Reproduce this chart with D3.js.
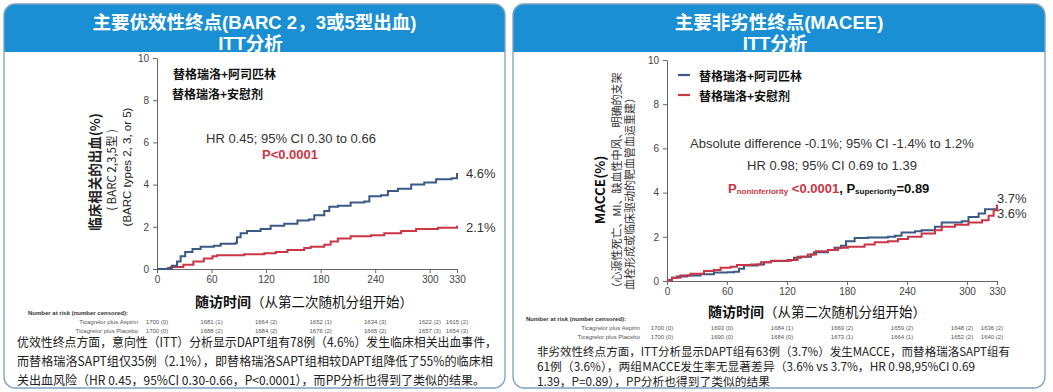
<!DOCTYPE html>
<html><head><meta charset="utf-8">
<script src="https://cdn.jsdelivr.net/npm/d3@7"></script>
<style>
body{margin:0;background:#fff}
svg{display:block}
text{font-family:"Noto Sans CJK SC","Noto Sans",sans-serif}
.lat{font-family:"Liberation Sans",Arial,sans-serif}
.ttl{font-family:"Liberation Sans","Noto Sans CJK SC",sans-serif}
</style></head>
<body><svg id="c" width="1053" height="392"></svg>
<script>
// ---------- data ----------
const xTicks = [0, 60, 120, 180, 240, 300, 330];
const yTicks = [0, 2, 4, 6, 8, 10];
const seriesNames = ["替格瑞洛+阿司匹林", "替格瑞洛+安慰剂"];
const riskLabels = ["Ticagrelor plus Aspirin", "Ticagrelor plus Placebo"];

// Left: BARC 2,3,5 bleeding (%)
const barcAspDays = [0, 15, 16.5, 22, 26, 31, 39, 48, 62.5, 70, 86.5, 88, 92, 99, 114, 125, 140, 154.5, 167, 173, 184, 189.5, 199, 213, 228, 233.6, 246.5, 254, 265, 279.6, 294, 307, 324, 330];
const barcAspVals = [0, 0.05, 0.15, 0.35, 0.6, 0.8, 0.95, 1.05, 1.1, 1.2, 1.25, 1.5, 1.7, 1.8, 1.9, 2.05, 2.15, 2.3, 2.35, 2.55, 2.75, 2.95, 3.0, 3.15, 3.2, 3.45, 3.5, 3.7, 3.8, 4.0, 4.1, 4.25, 4.3, 4.55];
const barcPlaDays = [0, 12, 15, 29, 40, 51.5, 61, 66, 96, 118, 130.6, 143.5, 162, 169, 184, 191, 199, 213, 235.5, 250, 268.6, 285, 309, 330];
const barcPlaVals = [0, 0.05, 0.1, 0.2, 0.35, 0.5, 0.6, 0.65, 0.7, 0.75, 0.8, 0.9, 1.0, 1.05, 1.15, 1.3, 1.45, 1.55, 1.6, 1.7, 1.8, 1.9, 1.95, 2.05];
const barcRiskAsp = ["1700 (0)", "1681 (1)", "1664 (2)", "1652 (1)", "1634 (3)", "1622 (2)", "1615 (2)"];
const barcRiskPla = ["1700 (0)", "1688 (2)", "1684 (2)", "1676 (2)", "1665 (2)", "1657 (3)", "1654 (3)"];
const barcEndLabels = ["4.6%", "2.1%"];

// Right: MACCE (%)
const macAspDays = [0, 5, 10, 20, 33.5, 47, 60, 67, 72, 77, 90.5, 97, 104, 120.6, 127, 134, 144, 147, 161, 167.5, 174, 179, 187.6, 201, 221, 228, 234.5, 248, 254.6, 268, 274.7, 294.8, 301.5, 311.6, 318, 330];
const macAspVals = [0.05, 0.15, 0.2, 0.25, 0.3, 0.38, 0.4, 0.42, 0.55, 0.7, 0.75, 0.85, 0.9, 0.95, 1.05, 1.1, 1.2, 1.3, 1.4, 1.5, 1.6, 1.8, 1.95, 1.97, 2.0, 2.05, 2.2, 2.25, 2.3, 2.45, 2.65, 2.7, 2.9, 3.05, 3.25, 3.45];
const macPlaDays = [0, 5, 13.4, 23.5, 37, 47, 53.6, 63.6, 70, 84, 94, 104, 124, 130.6, 140.7, 149, 161, 171, 181, 197.6, 207.7, 221, 231, 241, 254.6, 268, 274.7, 288, 301.5, 315, 321.6, 326.6, 330];
const macPlaVals = [0.05, 0.15, 0.25, 0.33, 0.45, 0.5, 0.6, 0.65, 0.72, 0.75, 0.85, 0.92, 0.95, 1.1, 1.2, 1.35, 1.4, 1.5, 1.55, 1.65, 1.75, 1.8, 1.9, 2.0, 2.15, 2.3, 2.45, 2.55, 2.65, 2.75, 2.95, 3.2, 3.45];
const macRiskAsp = ["1700 (0)", "1693 (0)", "1684 (1)", "1669 (2)", "1659 (2)", "1648 (2)", "1636 (2)"];
const macRiskPla = ["1700 (0)", "1690 (0)", "1684 (0)", "1673 (1)", "1664 (1)", "1652 (2)", "1640 (2)"];
const macEndLabels = ["3.7%", "3.6%"];

const leftTitle = ["主要优效性终点(BARC 2，3或5型出血)", "ITT分析"];
const rightTitle = ["主要非劣性终点(MACEE)", "ITT分析"];
const xTitleBold = "随访时间";
const xTitleRest = "（从第二次随机分组开始）";
const leftPara = [
  "优效性终点方面，意向性（ITT）分析显示DAPT组有78例（4.6%）发生临床相关出血事件，",
  "而替格瑞洛SAPT组仅35例（2.1%），即替格瑞洛SAPT组相较DAPT组降低了55%的临床相",
  "关出血风险（HR 0.45，95%CI 0.30-0.66，P<0.0001），而PP分析也得到了类似的结果。"
];
const rightPara = [
  "非劣效性终点方面，ITT分析显示DAPT组有63例（3.7%）发生MACCE，而替格瑞洛SAPT组有",
  "61例（3.6%），两组MACCE发生率无显著差异（3.6% vs 3.7%，HR 0.98,95%CI 0.69",
  "1.39，P=0.89），PP分析也得到了类似的结果"
];

// ---------- drawing ----------
const BLUE = "#3a5a86", RED = "#cc3545", HEAD = "#1a8fd3";
const svg = d3.select("#c");
const defs = svg.append("defs");

function panel(id, x, y, w, h, title) {
  defs.append("clipPath").attr("id", id).append("rect")
    .attr("x", x).attr("y", y).attr("width", w).attr("height", h).attr("rx", 11);
  const g = svg.append("g");
  g.append("rect").attr("x", x).attr("y", y).attr("width", w).attr("height", h)
    .attr("rx", 11).attr("fill", "#fff");
  g.append("rect").attr("clip-path", `url(#${id})`).attr("x", x).attr("y", y)
    .attr("width", w).attr("height", 48).attr("fill", HEAD);
  g.append("rect").attr("x", x).attr("y", y).attr("width", w).attr("height", h)
    .attr("rx", 11).attr("fill", "none").attr("stroke", "#7fa3bd").attr("stroke-width", 1.3);
  const cx = x + w / 2;
  [[title[0], cx, y + 18.5], [title[1], cx - 4, y + 39.5]].forEach(([t, tx, ty]) => {
    g.append("text").attr("class", "ttl").attr("x", tx).attr("y", ty).attr("text-anchor", "middle")
      .attr("dominant-baseline", "central")
      .attr("font-size", 18.5).attr("font-weight", "bold").attr("fill", "#fff").text(t);
  });
}
panel("clipL", 4, 4, 501, 384, leftTitle);
panel("clipR", 513, 4, 532, 384, rightTitle);

function chart(cfg) {
  const x = d3.scaleLinear().domain([0, 330]).range(cfg.xr);
  const y = d3.scaleLinear().domain([0, 10]).range(cfg.yr);
  const g = svg.append("g");
  const ax = g.append("g").attr("transform", `translate(0,${cfg.yr[0]})`)
    .call(d3.axisBottom(x).tickValues(xTicks).tickSize(4).tickSizeOuter(0).tickPadding(3));
  const ay = g.append("g").attr("transform", `translate(${cfg.xr[0]},0)`)
    .call(d3.axisLeft(y).tickValues(yTicks).tickSize(4).tickSizeOuter(0).tickPadding(4));
  [ax, ay].forEach(a => {
    a.selectAll("path,line").attr("stroke", "#666");
    a.selectAll("text").attr("class", "lat").attr("font-size", 10).attr("fill", "#444");
  });
  const line = d3.line().x(d => x(d[0])).y(d => y(d[1])).curve(d3.curveStepAfter);
  const series = [
    { days: cfg.plaDays, vals: cfg.plaVals, color: RED },
    { days: cfg.aspDays, vals: cfg.aspVals, color: BLUE }
  ];
  if (cfg.blueOnTop === false) series.reverse();
  series.forEach(s => {
    g.append("path").datum(s.days.map((d, i) => [d, s.vals[i]]))
      .attr("d", line).attr("fill", "none").attr("stroke", s.color).attr("stroke-width", 2);
  });
  // end labels
  cfg.endLabels.forEach((t, i) => {
    g.append("text").attr("class", "lat").attr("x", cfg.endX).attr("y", cfg.endY[i])
      .attr("dominant-baseline", "central").attr("font-size", 13).attr("fill", "#333").text(t);
  });
  // legend
  seriesNames.forEach((n, i) => {
    if (cfg.legendLines) {
      g.append("line").attr("x1", cfg.legX - 21).attr("x2", cfg.legX - 9)
        .attr("y1", cfg.legY[i]).attr("y2", cfg.legY[i])
        .attr("stroke", i === 0 ? BLUE : RED).attr("stroke-width", 2.2);
    }
    g.append("text").attr("x", cfg.legX + (cfg.legDx ? cfg.legDx[i] : 0)).attr("y", cfg.legY[i])
      .attr("dominant-baseline", "central").attr("font-size", 12).attr("font-weight", "bold")
      .attr("fill", "#111").text(n);
  });
  // x title
  const xt = g.append("text").attr("x", cfg.xTitleX).attr("y", cfg.xTitleY)
    .attr("text-anchor", "middle").attr("dominant-baseline", "central").attr("font-size", 14).attr("fill", "#111");
  xt.append("tspan").attr("font-weight", "bold").text(xTitleBold);
  xt.append("tspan").attr("font-size", 13.5).text(xTitleRest);
  // number at risk
  g.append("text").attr("class", "lat").attr("x", cfg.riskHeadX).attr("y", cfg.riskY[0])
    .attr("font-size", 6).attr("font-weight", "bold").attr("fill", "#333")
    .attr("dominant-baseline", "central").text("Number at risk (number censored):");
  [cfg.riskAsp, cfg.riskPla].forEach((row, r) => {
    g.append("text").attr("class", "lat").attr("x", cfg.riskLabX).attr("y", cfg.riskY[r + 1])
      .attr("text-anchor", "end").attr("dominant-baseline", "central").attr("font-size", 6)
      .attr("fill", "#555").text(riskLabels[r]);
    row.forEach((v, i) => {
      g.append("text").attr("class", "lat").attr("x", x(xTicks[i]) + cfg.riskDx)
        .attr("y", cfg.riskY[r + 1]).attr("text-anchor", "middle").attr("dominant-baseline", "central")
        .attr("font-size", 6).attr("fill", "#555").text(v);
    });
  });
  // paragraph
  cfg.para.forEach((t, i) => {
    g.append("text").attr("x", cfg.paraX).attr("y", cfg.paraY[i]).attr("dominant-baseline", "central")
      .attr("font-size", cfg.paraFs).attr("fill", "#222")
      .attr("textLength", cfg.paraW[i]).attr("lengthAdjust", "spacingAndGlyphs").text(t);
  });
  return { g, x, y };
}

const L = chart({
  xr: [157, 457], yr: [269, 58],
  aspDays: barcAspDays, aspVals: barcAspVals, plaDays: barcPlaDays, plaVals: barcPlaVals,
  endLabels: barcEndLabels, endX: 466, endY: [173, 227],
  legendLines: false, legX: 173, legDx: [0, -1], legY: [73, 93],
  xTitleX: 304, xTitleY: 301,
  riskHeadX: 28, riskLabX: 138, riskY: [313, 321.5, 330.5], riskAsp: barcRiskAsp, riskPla: barcRiskPla, riskDx: 0,
  para: leftPara, paraX: 17, paraY: [341, 360, 379], paraW: [480, 476, 468], paraFs: 12.5
});
const R = chart({
  xr: [667, 997], yr: [281, 60], blueOnTop: false,
  aspDays: macAspDays, aspVals: macAspVals, plaDays: macPlaDays, plaVals: macPlaVals,
  endLabels: macEndLabels, endX: 997, endY: [198, 213],
  legendLines: true, legX: 699, legY: [75, 95],
  xTitleX: 817, xTitleY: 311,
  riskHeadX: 526, riskLabX: 640, riskY: [319, 328, 336.5], riskAsp: macRiskAsp, riskPla: macRiskPla, riskDx: -5,
  para: rightPara, paraX: 537, paraY: [350, 365, 380], paraW: [473, 438, 233], paraFs: 11.8
});

// Left annotations
L.g.append("text").attr("class", "lat").attr("x", 291).attr("y", 138).attr("text-anchor", "middle")
  .attr("dominant-baseline", "central").attr("font-size", 13).attr("fill", "#333").text("HR 0.45; 95% CI 0.30 to 0.66");
L.g.append("text").attr("class", "lat").attr("x", 290).attr("y", 154).attr("text-anchor", "middle")
  .attr("dominant-baseline", "central").attr("font-size", 13).attr("font-weight", "bold").attr("fill", RED).text("P<0.0001");
// Left y title
[["临床相关的出血(%)", 94, 13.5, "bold", 172, ""], ["( BARC 2,3,5型 )", 111, 11.5, "normal", 170, ""], ["(BARC types 2, 3, or 5)", 127, 11.5, "normal", 167, "lat"]]
  .forEach(([t, xx, fs, fw, yy, cl]) => {
    L.g.append("text").attr("class", cl).attr("transform", `translate(${xx},${yy}) rotate(-90)`)
      .attr("text-anchor", "middle").attr("dominant-baseline", "central")
      .attr("font-size", fs).attr("font-weight", fw).attr("fill", "#222").text(t);
  });

// Right annotations
R.g.append("text").attr("class", "lat").attr("x", 832).attr("y", 143).attr("text-anchor", "middle")
  .attr("dominant-baseline", "central").attr("font-size", 13).attr("fill", "#333")
  .text("Absolute difference -0.1%; 95% CI -1.4% to 1.2%");
R.g.append("text").attr("class", "lat").attr("x", 832).attr("y", 165).attr("text-anchor", "middle")
  .attr("dominant-baseline", "central").attr("font-size", 13).attr("fill", "#333")
  .text("HR 0.98; 95% CI 0.69 to 1.39");
const pt = R.g.append("text").attr("class", "lat").attr("x", 728).attr("y", 188)
  .attr("dominant-baseline", "central").attr("font-size", 13).attr("font-weight", "bold");
pt.append("tspan").attr("fill", RED).text("P");
pt.append("tspan").attr("fill", RED).attr("font-size", 8).attr("dy", 3).text("noninferiority");
pt.append("tspan").attr("fill", RED).attr("dy", -3).text(" <0.0001");
pt.append("tspan").attr("fill", "#111").text(", P");
pt.append("tspan").attr("fill", "#111").attr("font-size", 8).attr("dy", 3).text("superiority");
pt.append("tspan").attr("fill", "#111").attr("dy", -3).text("=0.89");
// Right y title
[["MACCE(%)", 599, 13.5, "bold", 190, "#111"], ["（心源性死亡、MI、缺血性中风、明确的支架", 616, 11, "normal", 183, "#333"], ["血栓形成或临床驱动的靶血管血运重建）", 629, 11, "normal", 191, "#333"]]
  .forEach(([t, xx, fs, fw, yy, col]) => {
    R.g.append("text").attr("transform", `translate(${xx},${yy}) rotate(-90)`)
      .attr("text-anchor", "middle").attr("dominant-baseline", "central")
      .attr("font-size", fs).attr("font-weight", fw).attr("fill", col).text(t);
  });
</script></body></html>
